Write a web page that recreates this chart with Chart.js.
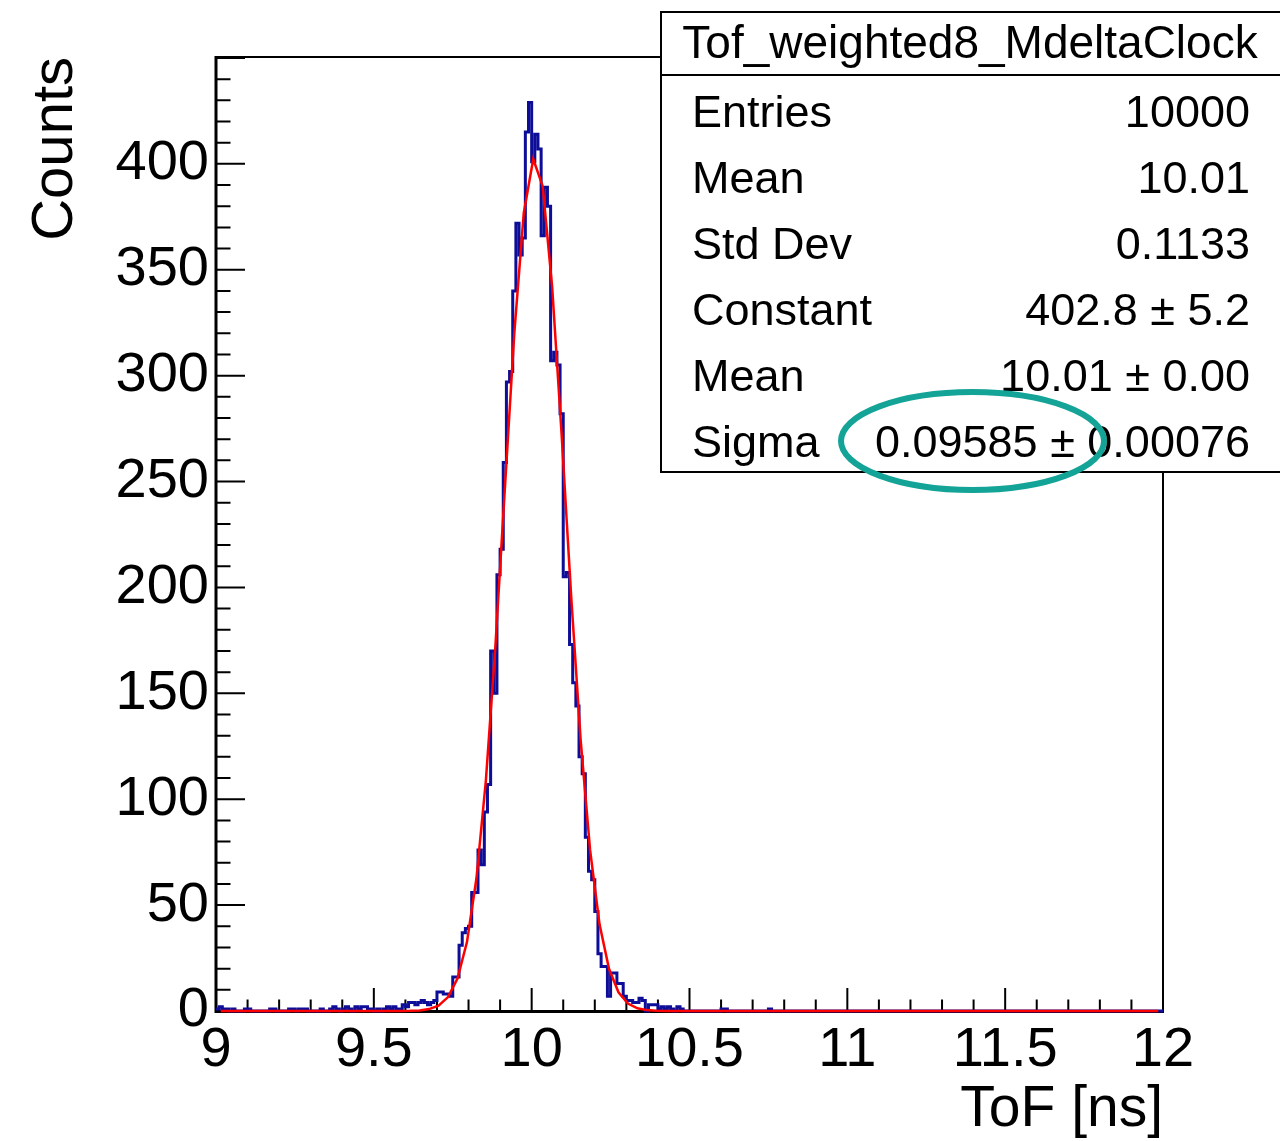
<!DOCTYPE html>
<html>
<head>
<meta charset="utf-8">
<title>Tof_weighted8_MdeltaClock</title>
<script src="https://cdn.jsdelivr.net/npm/chart.js@4.4.1/dist/chart.umd.min.js"></script>
<style>
  html, body { margin: 0; padding: 0; background: #ffffff; }
  #wrap { width: 1280px; height: 1141px; position: relative; }
  canvas { display: block; }
</style>
</head>
<body>
<div id="wrap"><canvas id="chart" width="1280" height="1141"></canvas></div>
<script>
// ---- histogram definition: 300 bins of 0.01 ns from 9 to 12 ns ----
const histName = 'Tof_weighted8_MdeltaClock';
const xMin = 9;
const xMax = 12;
const binWidth = 0.01;

// bin contents, ten bins (0.1 ns) per row
const counts = [
  1, 2, 1, 1, 0, 1, 0, 0, 0, 1,            //  9.0
  1, 0, 0, 0, 0, 0, 0, 1, 1, 0,            //  9.1
  0, 0, 0, 1, 1, 0, 1, 1, 1, 0,            //  9.2
  0, 0, 0, 1, 0, 0, 1, 2, 1, 0,            //  9.3
  1, 2, 1, 0, 2, 1, 2, 2, 1, 1,            //  9.4
  0, 1, 0, 1, 2, 1, 2, 1, 1, 3,            //  9.5
  2, 4, 4, 3, 4, 5, 4, 3, 4, 5,            //  9.6
  9, 9, 8, 8, 7, 16, 16, 31, 37, 39,       //  9.7
  40, 56, 56, 76, 69, 94, 107, 170, 150, 206,        //  9.8
  218, 259, 297, 302, 340, 372, 357, 365, 415, 429,  //  9.9
  401, 414, 407, 366, 389, 380, 307, 311, 305, 282,  // 10.0
  205, 207, 173, 155, 144, 120, 112, 82, 66, 62,     // 10.1
  47, 27, 21, 21, 7, 18, 18, 13, 13, 7,    // 10.2
  5, 5, 4, 4, 6, 5, 0, 3, 3, 3,            // 10.3
  1, 2, 1, 2, 1, 0, 2, 1, 0, 0,            // 10.4
  0, 0, 0, 0, 0, 0, 0, 0, 0, 0,            // 10.5
  1, 1, 0, 0, 0, 0, 0, 0, 0, 0,            // 10.6
  0, 0, 0, 0, 0, 1, 0, 0, 0, 0,            // 10.7
  0, 0, 0, 0, 0, 0, 0, 0, 0, 0,            // 10.8
  0, 0, 0, 0, 0, 0, 0, 0, 0, 0,            // 10.9
  0, 0, 0, 0, 0, 0, 0, 0, 0, 0,            // 11.0
  0, 0, 0, 0, 0, 0, 0, 0, 0, 0,            // 11.1
  0, 0, 0, 0, 0, 0, 0, 0, 0, 0,            // 11.2
  0, 0, 0, 0, 0, 0, 0, 0, 0, 0,            // 11.3
  0, 0, 0, 0, 0, 0, 0, 0, 0, 0,            // 11.4
  0, 0, 0, 0, 0, 0, 0, 0, 0, 0,            // 11.5
  0, 0, 0, 0, 0, 0, 0, 0, 0, 0,            // 11.6
  0, 0, 0, 0, 0, 0, 0, 0, 0, 0,            // 11.7
  0, 0, 0, 0, 0, 0, 0, 0, 0, 0,            // 11.8
  0, 0, 0, 0, 0, 0, 0, 0, 0, 0             // 11.9
];

// axis ticks
const xTickValues = [9, 9.5, 10, 10.5, 11, 11.5, 12];
const yTickValues = [0, 50, 100, 150, 200, 250, 300, 350, 400];
const yMax = 450.45;

// statistics box
const statNames  = ['Entries', 'Mean', 'Std Dev', 'Constant', 'Mean', 'Sigma'];
const statValues = ['10000', '10.01', '0.1133', '402.8 \u00b1 5.2', '10.01 \u00b1 0.00', '0.09585 \u00b1 0.00076'];

// gaussian fit parameters (as listed in the box)
const fitConstant = 402.8;
const fitMean = 10.01;
const fitSigma = 0.09585;
const fitNpx = 100;   // number of sampling points of the fit function

const FONT = '"Liberation Sans", Arial, Helvetica, sans-serif';

// step outline: one point per bin low edge, plus the closing upper edge
const histPoints = counts.map((c, i) => ({ x: xMin + i * binWidth, y: c }));
histPoints.push({ x: xMax, y: counts[counts.length - 1] });

// fit function sampled at the centres of fitNpx equal intervals
const fitPoints = [];
for (let k = 0; k < fitNpx; k++) {
  const x = xMin + (k + 0.5) * (xMax - xMin) / fitNpx;
  const u = (x - fitMean) / fitSigma;
  fitPoints.push({ x: x, y: fitConstant * Math.exp(-0.5 * u * u) });
}

// frame and inward-pointing tick marks
const framePlugin = {
  id: 'frameTicks',
  beforeDatasetsDraw(chart) {
    const { ctx, chartArea: a, scales: { x, y } } = chart;
    ctx.save();
    ctx.strokeStyle = '#000';
    ctx.lineCap = 'butt';
    // top and right sides of the frame
    ctx.lineWidth = 2;
    ctx.beginPath();
    ctx.moveTo(a.left, a.top); ctx.lineTo(a.right, a.top);
    ctx.moveTo(a.right, a.top); ctx.lineTo(a.right, a.bottom);
    ctx.stroke();
    // axes
    ctx.lineWidth = 3;
    ctx.beginPath();
    ctx.moveTo(a.left, a.top - 1); ctx.lineTo(a.left, a.bottom + 1.5);
    ctx.moveTo(a.left - 1.5, a.bottom + 0.5); ctx.lineTo(a.right + 1, a.bottom + 0.5);
    ctx.stroke();

    ctx.lineWidth = 2;
    ctx.beginPath();
    // x ticks: major every 0.5, minor every 0.1
    for (let m = 0; m <= 30; m++) {
      const v = xMin + m * 0.1;
      const px = x.getPixelForValue(v);
      const len = (m % 5 === 0) ? 23 : 11.5;
      ctx.moveTo(px, a.bottom);
      ctx.lineTo(px, a.bottom - len);
    }
    // y ticks: major every 50, minor every 10
    for (let v = 0; v <= yMax; v += 10) {
      const py = y.getPixelForValue(v);
      const len = (v % 50 === 0) ? 29 : 14.5;
      ctx.moveTo(a.left, py);
      ctx.lineTo(a.left + len, py);
    }
    ctx.stroke();
    ctx.restore();
  }
};

// statistics box drawn over the frame
const statsPlugin = {
  id: 'statsBox',
  afterDraw(chart) {
    const ctx = chart.ctx;
    const left = 661, top = 12, bottom = 472, right = 1290;
    ctx.save();
    ctx.fillStyle = '#ffffff';
    ctx.fillRect(left, top, right - left, bottom - top);
    ctx.strokeStyle = '#000';
    ctx.lineWidth = 2;
    ctx.strokeRect(left, top, right - left, bottom - top);
    ctx.beginPath();
    ctx.moveTo(left, 75); ctx.lineTo(right, 75);
    ctx.stroke();

    ctx.fillStyle = '#000';
    ctx.textBaseline = 'alphabetic';
    ctx.textAlign = 'center';
    ctx.font = '46px ' + FONT;
    ctx.fillText(histName, 970, 58);

    ctx.font = '45px ' + FONT;
    for (let i = 0; i < statNames.length; i++) {
      const base = 127 + i * 66;
      ctx.textAlign = 'left';
      ctx.fillText(statNames[i], 692, base);
      ctx.textAlign = 'right';
      ctx.fillText(statValues[i], 1250, base);
    }

    // highlight ring around the fitted sigma
    ctx.strokeStyle = '#14a397';
    ctx.lineWidth = 6;
    ctx.beginPath();
    ctx.ellipse(972.5, 441, 131.5, 49, 0, 0, Math.PI * 2);
    ctx.stroke();
    ctx.restore();
  }
};

new Chart(document.getElementById('chart'), {
  type: 'line',
  data: {
    datasets: [
      {
        label: 'fit',
        data: fitPoints,
        borderColor: '#ff0000',
        borderWidth: 2.5,
        pointRadius: 0,
        tension: 0,
        fill: false,
        clip: 6,
        order: 1
      },
      {
        label: histName,
        data: histPoints,
        stepped: 'before',
        borderColor: '#0d0d98',
        borderWidth: 3,
        borderJoinStyle: 'miter',
        pointRadius: 0,
        tension: 0,
        fill: false,
        clip: 6,
        order: 2
      }
    ]
  },
  options: {
    responsive: false,
    maintainAspectRatio: false,
    animation: false,
    devicePixelRatio: 1,
    events: [],
    layout: { padding: { left: 0, top: 57, right: 117, bottom: 0 } },
    plugins: {
      legend: { display: false },
      tooltip: { enabled: false },
      title: { display: false }
    },
    scales: {
      x: {
        type: 'linear',
        min: xMin,
        max: xMax,
        grid: { display: false, drawTicks: false },
        border: { display: false },
        afterBuildTicks: (s) => { s.ticks = xTickValues.map(v => ({ value: v })); },
        afterFit: (s) => { s.height = 130; },
        ticks: {
          autoSkip: false,
          maxRotation: 0,
          minRotation: 0,
          padding: 12,
          color: '#000',
          font: { family: FONT, size: 56, lineHeight: 1 },
          callback: (v) => String(v)
        },
        title: {
          display: true,
          text: 'ToF [ns]',
          align: 'end',
          color: '#000',
          font: { family: FONT, size: 57, lineHeight: 1 },
          padding: { top: 0, bottom: 2 }
        }
      },
      y: {
        type: 'linear',
        min: 0,
        max: yMax,
        grid: { display: false, drawTicks: false },
        border: { display: false },
        afterBuildTicks: (s) => { s.ticks = yTickValues.map(v => ({ value: v })); },
        afterFit: (s) => { s.width = 216; },
        ticks: {
          autoSkip: false,
          padding: 7,
          color: '#000',
          font: { family: FONT, size: 56, lineHeight: 1 },
          callback: (v) => String(v)
        },
        title: {
          display: true,
          text: 'Counts',
          align: 'end',
          color: '#000',
          font: { family: FONT, size: 58, lineHeight: 1 },
          padding: { top: 27, bottom: 0 }
        }
      }
    }
  },
  plugins: [framePlugin, statsPlugin]
});
</script>
</body>
</html>
